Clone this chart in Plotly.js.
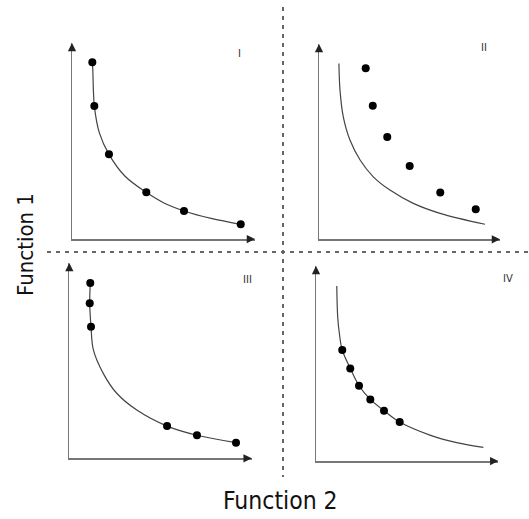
<!DOCTYPE html>
<html>
<head>
<meta charset="utf-8">
<script src="https://cdn.plot.ly/plotly-3.0.1.min.js"></script>
<style>html,body{margin:0;padding:0;background:#fff;}#chart{width:529px;height:519px;}</style>
</head>
<body>
<div id="chart"></div>
<script>
// Panel I: curve passes through the dots
const p1CurveX = [1.08, 1.11, 1.22, 1.5, 2.02, 2.9, 4.06, 5.0, 6.12, 7.6, 9.22];
const p1CurveY = [9.10, 9.02, 6.79, 5.4, 4.32, 3.2, 2.38, 1.85, 1.43, 1.05, 0.75];
const p1DotX = [1.11, 1.22, 2.02, 4.06, 6.12, 9.22];
const p1DotY = [9.02, 6.79, 4.32, 2.38, 1.43, 0.75];

// Panel II: curve lies below the dots
const p2CurveX = [1.10, 1.16, 1.34, 1.71, 2.27, 3.00, 3.92, 5.21, 6.69, 9.17];
const p2CurveY = [9.00, 7.64, 6.28, 5.08, 4.06, 3.20, 2.52, 1.84, 1.33, 0.77];
const p2DotX = [2.58, 2.97, 3.77, 5.01, 6.70, 8.66];
const p2DotY = [8.76, 6.84, 5.24, 3.75, 2.39, 1.54];

// Panel III
const p3CurveX = [1.15, 1.12, 1.19, 1.32, 1.86, 2.60, 3.70, 5.36, 7.00, 9.14];
const p3CurveY = [8.98, 7.94, 6.74, 5.55, 4.35, 3.33, 2.47, 1.65, 1.18, 0.80];
const p3DotX = [1.15, 1.12, 1.19, 5.36, 7.00, 9.14];
const p3DotY = [8.98, 7.94, 6.74, 1.65, 1.18, 0.80];

// Panel IV
const p4CurveX = [1.14, 1.19, 1.28, 1.44, 1.88, 2.36, 2.98, 3.73, 4.59, 6.25, 7.72, 9.18];
const p4CurveY = [8.97, 7.40, 6.55, 5.69, 4.75, 3.86, 3.16, 2.58, 2.00, 1.33, 0.94, 0.70];
const p4DotX = [1.44, 1.88, 2.36, 2.98, 3.73, 4.59];
const p4DotY = [5.69, 4.75, 3.86, 3.16, 2.58, 2.00];

const panelLabels = ["I", "II", "III", "IV"];
const xTitle = "Function 2";
const yTitle = "Function 1";

const panels = [
  {cx: p1CurveX, cy: p1CurveY, dx: p1DotX, dy: p1DotY},
  {cx: p2CurveX, cy: p2CurveY, dx: p2DotX, dy: p2DotY},
  {cx: p3CurveX, cy: p3CurveY, dx: p3DotX, dy: p3DotY},
  {cx: p4CurveX, cy: p4CurveY, dx: p4DotX, dy: p4DotY}
];

const W = 529, H = 519;
// pixel boxes: [left, right, bottom, top]
const boxes = [
  [72, 255, 239, 43],
  [319, 500, 239.3, 44],
  [69.3, 251.7, 458.3, 263],
  [316, 498.3, 461, 266]
];
const labelPos = [[239, 53], [484, 47], [247, 279], [508, 278]];

const traces = [];
const layout = {
  width: W, height: H,
  margin: {l: 0, r: 0, t: 0, b: 0},
  paper_bgcolor: '#fff', plot_bgcolor: 'rgba(0,0,0,0)',
  showlegend: false,
  annotations: [], shapes: []
};

panels.forEach((p, i) => {
  const n = i === 0 ? '' : String(i + 1);
  const xa = 'x' + n, ya = 'y' + n;
  traces.push({x: p.cx, y: p.cy, xaxis: xa, yaxis: ya, mode: 'lines',
    line: {color: '#444', width: 1.2, shape: 'spline', smoothing: 1}, hoverinfo: 'skip'});
  traces.push({x: p.dx, y: p.dy, xaxis: xa, yaxis: ya, mode: 'markers',
    marker: {color: '#000', size: 8}, hoverinfo: 'skip'});
  const b = boxes[i];
  const ax = {domain: [b[0] / W, b[1] / W], range: [0, 10], showline: true, linecolor: '#777', linewidth: 1.5,
    showgrid: false, zeroline: false, showticklabels: false, ticks: '', anchor: ya, fixedrange: true};
  const ay = {domain: [1 - b[2] / H, 1 - b[3] / H], range: [0, 10], showline: true, linecolor: '#777', linewidth: 1.5,
    showgrid: false, zeroline: false, showticklabels: false, ticks: '', anchor: xa, fixedrange: true};
  layout['xaxis' + n] = ax;
  layout['yaxis' + n] = ay;
  // arrow heads
  layout.annotations.push({xref: xa + ' domain', yref: ya + ' domain', axref: xa + ' domain', ayref: ya + ' domain',
    x: 1.0, y: 0, ax: 0.96, ay: 0, text: '', showarrow: true, arrowhead: 2, arrowsize: 1.1, arrowwidth: 1.5, arrowcolor: '#222'});
  layout.annotations.push({xref: xa + ' domain', yref: ya + ' domain', axref: xa + ' domain', ayref: ya + ' domain',
    x: 0, y: 1.0, ax: 0, ay: 0.96, text: '', showarrow: true, arrowhead: 2, arrowsize: 1.1, arrowwidth: 1.5, arrowcolor: '#222'});
  layout.annotations.push({xref: 'paper', yref: 'paper', x: labelPos[i][0] / W, y: 1 - labelPos[i][1] / H,
    xanchor: 'center', yanchor: 'middle',
    text: panelLabels[i], showarrow: false, font: {family: 'DejaVu Sans', size: 10, color: '#333'}});
});

// dashed separators
layout.shapes.push({type: 'line', xref: 'paper', yref: 'paper', x0: 283 / W, x1: 283 / W, y0: 1 - 7 / H, y1: 1 - 477 / H,
  line: {color: '#666', width: 2, dash: '4px,5px'}});
layout.shapes.push({type: 'line', xref: 'paper', yref: 'paper', x0: 47 / W, x1: 1, y0: 1 - 252 / H, y1: 1 - 252 / H,
  line: {color: '#666', width: 2, dash: '4px,5px'}});

// axis titles
layout.annotations.push({xref: 'paper', yref: 'paper', x: 280 / W, y: 1 - 500 / H, xanchor: 'center', yanchor: 'middle',
  text: xTitle, showarrow: false,
  font: {family: 'DejaVu Sans Condensed, DejaVu Sans', size: 24.5, color: '#111'}});
layout.annotations.push({xref: 'paper', yref: 'paper', x: 25 / W, y: 1 - 245 / H, xanchor: 'center', yanchor: 'middle',
  text: yTitle, showarrow: false, textangle: -90,
  font: {family: 'DejaVu Sans Condensed, DejaVu Sans', size: 22, color: '#111'}});

Plotly.newPlot('chart', traces, layout, {staticPlot: true, displayModeBar: false});
</script>
</body>
</html>
